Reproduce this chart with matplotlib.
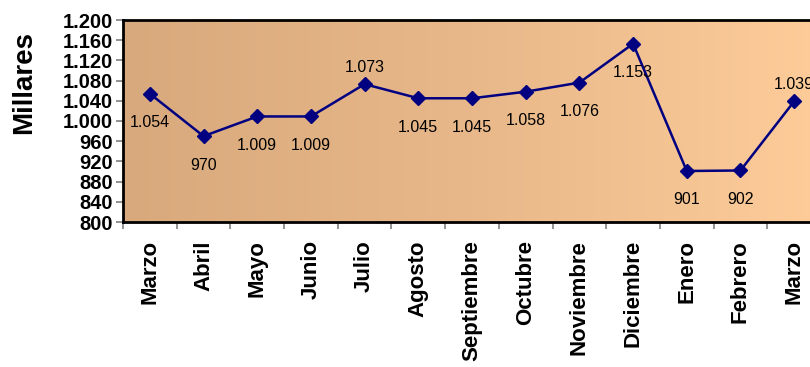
import numpy as np
import matplotlib
matplotlib.use("Agg")
import matplotlib.pyplot as plt
from matplotlib.colors import LinearSegmentedColormap

plt.rcParams['font.family'] = ['Liberation Sans', 'DejaVu Sans']

months = ["Marzo", "Abril", "Mayo", "Junio", "Julio", "Agosto", "Septiembre",
          "Octubre", "Noviembre", "Diciembre", "Enero", "Febrero", "Marzo"]
values = [1054, 970, 1009, 1009, 1073, 1045, 1045, 1058, 1076, 1153, 901, 902, 1039]
label_above = [False, False, False, False, True, False, False, False, False,
               False, False, False, True]
y_ticks = list(range(800, 1201, 40))


def fmt(v):
    return f"{v:,}".replace(",", ".")


fig = plt.figure(figsize=(8.10, 3.67), dpi=100)
ax = fig.add_axes([123 / 810, 1 - 222 / 367, 698 / 810, 202 / 367])

x = np.arange(len(months))
ax.set_xlim(-0.5, len(months) - 0.5)
ax.set_ylim(800, 1200)

# horizontal tan-to-peach gradient background
cmap = LinearSegmentedColormap.from_list("bg", ["#D8A97C", "#E8B88A", "#FDCC99"])
grad = np.linspace(0, 1, 256).reshape(1, -1)
ax.imshow(grad, cmap=cmap, aspect="auto", extent=[-0.5, len(months) - 0.5, 800, 1200],
          zorder=0, interpolation="bicubic")

ax.plot(x, values, color="#000080", lw=1.8, marker="D", markersize=7.5,
        markerfacecolor="#000080", markeredgecolor="#000080", zorder=3)

for xi, v, up in zip(x, values, label_above):
    off = 17 if up else -29
    ax.annotate(fmt(v), (xi, v), xytext=(0, off), textcoords="offset pixels",
                ha="center", va="center", fontsize=11.5, color="#000000", zorder=4)

ax.set_xticks(np.arange(-0.5, len(months) - 0.5 + 0.01, 1))
ax.set_xticklabels([])
ax.set_xticks(x, minor=True)
ax.set_xticklabels(months, minor=True, rotation=90, fontsize=16, fontweight="bold")
ax.tick_params(axis="x", which="minor", length=0, pad=13)
ax.tick_params(axis="x", which="major", length=5, color="#808080", width=1.2)

ax.set_yticks(y_ticks)
ax.set_yticklabels([fmt(t) for t in y_ticks], fontsize=14.5, fontweight="bold")
ax.tick_params(axis="y", length=5, color="#808080", width=1.2, pad=2)

for s in ax.spines.values():
    s.set_color("black")
    s.set_linewidth(2)

fig.text(24 / 810, 1 - 83 / 367, "Millares", rotation=90, fontsize=20, fontweight="bold",
         ha="center", va="center")

fig.savefig("out.png", dpi=100)
